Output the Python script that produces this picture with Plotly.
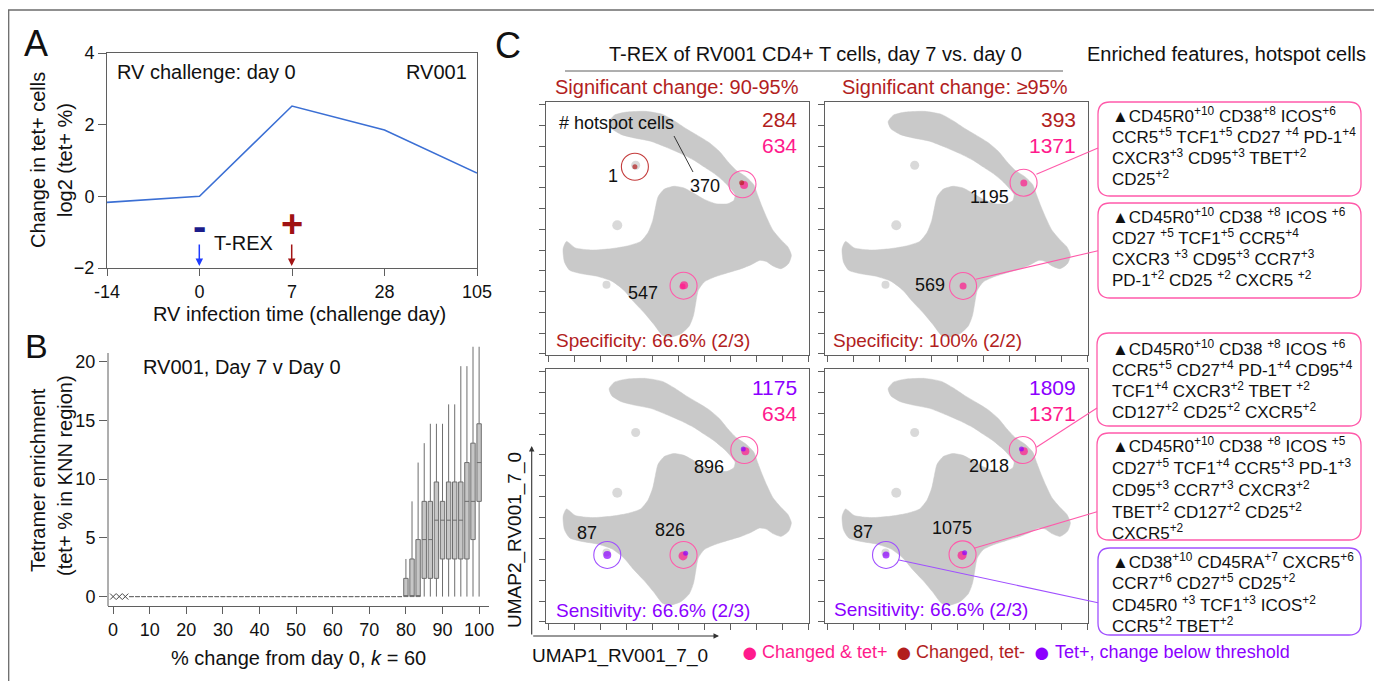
import plotly.graph_objects as go

# The page body has an 8 px margin, so the figure is drawn 8 px in from the window edge.
OX, OY = 8, 8
W, H = 1382 - OX, 681 - OY
FONT = "Liberation Sans, Arial, Helvetica, sans-serif"
INK = "#111111"
AXC = "#5f5f5f"
BLUE = "#3b6fd4"
PINK = "#ff1a8c"
DRED = "#b21e1e"
PURP = "#8b00ff"
GREY = "#c9c9c9"
PINK_LINE = "#ff5aaa"
PURP_LINE = "#a050ff"
DRED_LINE = "#c43c3c"

# ---------------- Panel A data ----------------
a_days = ["-14", "0", "7", "28", "105"]
a_log2 = [-0.17, 0.00, 2.52, 1.85, 0.65]
a_yticks = [-2, 0, 2, 4]

# ---------------- Panel B data ----------------
b_nan_pos = [0, 1.67, 3.33]
b_zero_pos = [5, 6.67, 8.33, 10, 11.67, 13.33, 15, 16.67, 18.33, 20, 21.67, 23.33,
              25, 26.67, 28.33, 30, 31.67, 33.33, 35, 36.67, 38.33, 40, 41.67, 43.33,
              45, 46.67, 48.33, 50, 51.67, 53.33, 55, 56.67, 58.33, 60, 61.67, 63.33,
              65, 66.67, 68.33, 70, 71.67, 73.33, 75, 76.67, 78.33]
b_zero_val = [0.0] * len(b_zero_pos)
b_box_pos = [80, 81.67, 83.33, 85, 86.67, 88.33, 90, 91.67, 93.33, 95, 96.67, 98.33, 100]
b_q1 = [0, 0, 0, 1.55, 1.55, 1.55, 3.2, 3.2, 3.2, 3.2, 3.2, 4.85, 8.1]
b_med = [0, 0, 0, 4.85, 4.85, 6.5, 6.5, 6.5, 6.5, 6.5, 8.1, 8.1, 11.4]
b_q3 = [1.55, 3.2, 4.85, 8.1, 8.1, 9.75, 8.1, 9.75, 9.75, 9.75, 11.4, 13.05, 14.7]
b_hi = [3.2, 8.1, 11.4, 13.05, 14.7, 14.7, 14.7, 16.35, 16.35, 19.6, 19.6, 21.25, 21.25]
b_lo = [0, 0, 0, 0, 0, 0, 0, 0, 0, 0, 0, 0, 0]
b_xticks = [0, 10, 20, 30, 40, 50, 60, 70, 80, 90, 100]
b_yticks = [0, 5, 10, 15, 20]

# ---------------- Panel C data (UMAP space, 0-10 units) ----------------
umap1_outline = [2.40, 2.60, 3.05, 3.80, 4.43, 4.87, 5.32, 5.76, 6.21, 6.59,
                 6.91, 7.23, 7.61, 7.90, 8.05, 8.22, 8.41, 8.63, 8.92, 9.20,
                 9.33, 9.22, 8.94, 8.63, 8.37, 8.12, 7.80, 7.42, 6.91, 6.40,
                 6.02, 5.79, 5.70, 5.61, 5.45, 5.13, 4.75, 4.43, 4.11, 3.73,
                 3.32, 2.96, 2.52, 1.95, 1.37, 0.90, 0.70, 0.65, 0.78, 1.12,
                 1.76, 2.46, 3.09, 3.60, 3.88, 4.06, 4.16, 4.26, 4.49, 4.87,
                 5.25, 5.64, 6.02, 6.46, 6.91, 7.14, 7.19, 7.04, 6.78, 6.40,
                 6.02, 5.64, 5.13, 4.55, 3.98, 3.35, 2.85, 2.50]
umap2_outline = [9.22, 9.48, 9.60, 9.63, 9.51, 9.26, 8.95, 8.68, 8.39, 8.05,
                 7.65, 7.30, 7.04, 6.73, 6.31, 5.85, 5.39, 4.93, 4.57, 4.27,
                 3.94, 3.61, 3.41, 3.52, 3.70, 3.74, 3.57, 3.41, 3.25, 3.08,
                 2.89, 2.56, 2.09, 1.57, 1.15, 0.84, 0.71, 0.78, 1.20, 1.67,
                 2.12, 2.56, 2.91, 3.11, 3.21, 3.35, 3.68, 4.20, 4.49, 4.23,
                 4.15, 4.20, 4.31, 4.49, 4.84, 5.32, 5.81, 6.25, 6.55, 6.67,
                 6.60, 6.38, 6.15, 5.98, 5.98, 6.11, 6.34, 6.55, 6.84, 7.17,
                 7.43, 7.69, 7.96, 8.22, 8.45, 8.58, 8.72, 8.95]
umap1_islands = [3.41, 2.71, 2.30]
umap2_islands = [7.50, 5.13, 2.78]
island_size = [9, 10, 8]

# hotspot cells per panel: x, y, colour, marker size
tl_dots = [(3.38, 7.44, DRED, 5), (7.53, 6.72, PINK, 8), (7.44, 6.81, DRED, 5),
           (5.25, 2.76, PINK, 8), (5.19, 2.71, PINK, 6)]
tr_dots = [(7.56, 6.80, PINK, 7), (5.25, 2.73, PINK, 7)]
bl_dots = [(7.58, 6.76, PINK, 8), (7.50, 6.85, PURP, 5), (5.21, 2.64, PINK, 9),
           (5.31, 2.75, PURP, 5), (2.33, 2.68, PURP, 8)]
br_dots = [(7.56, 6.76, PINK, 8), (7.47, 6.85, PURP, 5), (5.21, 2.66, PINK, 9),
           (5.31, 2.77, PURP, 5), (2.32, 2.68, PURP, 7)]
# hotspot circles: x, y, colour
tl_circ = [(3.38, 7.44, DRED_LINE), (7.47, 6.75, PINK_LINE), (5.23, 2.74, PINK_LINE)]
tr_circ = [(7.55, 6.81, PINK_LINE), (5.25, 2.73, PINK_LINE)]
bl_circ = [(7.54, 6.81, PINK_LINE), (5.23, 2.68, PINK_LINE), (2.33, 2.68, PURP_LINE)]
br_circ = [(7.52, 6.81, PINK_LINE), (5.23, 2.70, PINK_LINE), (2.32, 2.68, PURP_LINE)]
# hotspot cell counts (label, x, y)
tl_counts = [("1", 2.54, 7.09), ("370", 6.04, 6.68), ("547", 3.68, 2.44)]
tr_counts = [("1195", 6.27, 6.25), ("569", 3.98, 2.75)]
bl_counts = [("896", 6.18, 6.13), ("826", 4.72, 3.66), ("87", 1.54, 3.53)]
br_counts = [("2018", 6.23, 6.18), ("1075", 4.83, 3.73), ("87", 1.43, 3.57)]
# totals
panel_totals = [("284", "634", DRED, PINK), ("393", "1371", DRED, PINK),
                ("1175", "634", PURP, PINK), ("1809", "1371", PURP, PINK)]
panel_notes = [("Specificity: 66.6% (2/3)", DRED), ("Specificity: 100% (2/2)", DRED),
               ("Sensitivity: 66.6% (2/3)", PURP), ("Sensitivity: 66.6% (2/3)", PURP)]

feature_boxes = [
    ["▲CD45R0<sup>+10</sup> CD38<sup>+8</sup> ICOS<sup>+6</sup>",
     "CCR5<sup>+5</sup> TCF1<sup>+5</sup> CD27 <sup>+4</sup> PD-1<sup>+4</sup>",
     "CXCR3<sup>+3</sup> CD95<sup>+3</sup> TBET<sup>+2</sup>",
     "CD25<sup>+2</sup>"],
    ["▲CD45R0<sup>+10</sup> CD38 <sup>+8</sup> ICOS <sup>+6</sup>",
     "CD27 <sup>+5</sup> TCF1<sup>+5</sup> CCR5<sup>+4</sup>",
     "CXCR3 <sup>+3</sup> CD95<sup>+3</sup> CCR7<sup>+3</sup>",
     "PD-1<sup>+2</sup> CD25 <sup>+2</sup> CXCR5 <sup>+2</sup>"],
    ["▲CD45R0<sup>+10</sup> CD38 <sup>+8</sup> ICOS <sup>+6</sup>",
     "CCR5<sup>+5</sup> CD27<sup>+4</sup> PD-1<sup>+4</sup> CD95<sup>+4</sup>",
     "TCF1<sup>+4</sup> CXCR3<sup>+2</sup> TBET <sup>+2</sup>",
     "CD127<sup>+2</sup> CD25<sup>+2</sup> CXCR5<sup>+2</sup>"],
    ["▲CD45R0<sup>+10</sup> CD38 <sup>+8</sup> ICOS <sup>+5</sup>",
     "CD27<sup>+5</sup> TCF1<sup>+4</sup> CCR5<sup>+3</sup> PD-1<sup>+3</sup>",
     "CD95<sup>+3</sup> CCR7<sup>+3</sup> CXCR3<sup>+2</sup>",
     "TBET<sup>+2</sup> CD127<sup>+2</sup> CD25<sup>+2</sup>",
     "CXCR5<sup>+2</sup>"],
    ["▲CD38<sup>+10</sup> CD45RA<sup>+7</sup> CXCR5<sup>+6</sup>",
     "CCR7<sup>+6</sup> CD27<sup>+5</sup> CD25<sup>+2</sup>",
     "CD45R0 <sup>+3</sup> TCF1<sup>+3</sup> ICOS<sup>+2</sup>",
     "CCR5<sup>+2</sup> TBET<sup>+2</sup>"],
]

# ---------------- layout helpers (window pixel -> paper) ----------------
def fx(p):
    return (p - OX) / W


def fy(p):
    return 1 - (p - OY) / H


ann = []
shapes = []


def T(x, y, s, size=20, color=INK, xa="center", ya="middle", angle=0):
    ann.append(dict(x=fx(x), y=fy(y), xref="paper", yref="paper", text=s, showarrow=False,
                    font=dict(family=FONT, size=size, color=color), xanchor=xa, yanchor=ya,
                    textangle=angle))


def ARW(hx, hy, tx, ty, color, width=1.5, size=1.0):
    ann.append(dict(x=fx(hx), y=fy(hy), xref="paper", yref="paper", ax=tx - hx, ay=ty - hy,
                    axref="pixel", ayref="pixel", text="", showarrow=True, arrowhead=2,
                    arrowsize=size, arrowwidth=width, arrowcolor=color, standoff=0,
                    startstandoff=0))


def LINE(x0, y0, x1, y1, color, width=1.0):
    shapes.append(dict(type="line", xref="paper", yref="paper", x0=fx(x0), y0=fy(y0),
                       x1=fx(x1), y1=fy(y1), line=dict(color=color, width=width)))


def RBOX(x0, y0, x1, y1, color, r=12):
    def p(x, y):
        return f"{fx(x):.5f},{fy(y):.5f}"
    path = (f"M {p(x0 + r, y0)} L {p(x1 - r, y0)} Q {p(x1, y0)} {p(x1, y0 + r)} "
            f"L {p(x1, y1 - r)} Q {p(x1, y1)} {p(x1 - r, y1)} L {p(x0 + r, y1)} "
            f"Q {p(x0, y1)} {p(x0, y1 - r)} L {p(x0, y0 + r)} Q {p(x0, y0)} {p(x0 + r, y0)} Z")
    shapes.append(dict(type="path", xref="paper", yref="paper", path=path,
                       line=dict(color=color, width=1.3), fillcolor="rgba(0,0,0,0)"))


fig = go.Figure()

# ---------------- Panel A ----------------
fig.add_trace(go.Scatter(x=a_days, y=a_log2, mode="lines", line=dict(color=BLUE, width=1.6),
                         xaxis="x", yaxis="y", showlegend=False, hoverinfo="skip"))

# ---------------- Panel B ----------------
box_style = dict(fillcolor="#c6c6c6", line=dict(color="#6e6e6e", width=1), whiskerwidth=0,
                 boxpoints=False, width=1.2, xaxis="x2", yaxis="y2", showlegend=False,
                 hoverinfo="skip")
fig.add_trace(go.Box(x=b_zero_pos, q1=b_zero_val, median=b_zero_val, q3=b_zero_val,
                     lowerfence=b_zero_val, upperfence=b_zero_val, **box_style))
fig.add_trace(go.Box(x=b_box_pos, q1=b_q1, median=b_med, q3=b_q3,
                     lowerfence=b_lo, upperfence=b_hi, **box_style))
fig.add_trace(go.Scatter(x=b_nan_pos, y=[0] * len(b_nan_pos), mode="markers",
                         marker=dict(symbol="x-thin", size=6, line=dict(width=1, color="#444")),
                         xaxis="x2", yaxis="y2", showlegend=False, hoverinfo="skip"))

# ---------------- Panel C ----------------
panels = [
    ("x3", "y3", tl_dots, tl_circ, tl_counts),
    ("x4", "y4", tr_dots, tr_circ, tr_counts),
    ("x5", "y5", bl_dots, bl_circ, bl_counts),
    ("x6", "y6", br_dots, br_circ, br_counts),
]
for xa, ya, dots, circ, counts in panels:
    fig.add_trace(go.Scatter(x=umap1_outline + umap1_outline[:1], y=umap2_outline + umap2_outline[:1],
                             mode="lines", fill="toself", fillcolor=GREY,
                             line=dict(color=GREY, width=0.5, shape="spline", smoothing=0.6),
                             xaxis=xa, yaxis=ya, showlegend=False, hoverinfo="skip"))
    fig.add_trace(go.Scatter(x=umap1_islands, y=umap2_islands, mode="markers",
                             marker=dict(color=GREY, size=island_size, line=dict(width=0)),
                             xaxis=xa, yaxis=ya, showlegend=False, hoverinfo="skip"))
    fig.add_trace(go.Scatter(x=[d[0] for d in dots], y=[d[1] for d in dots], mode="markers",
                             marker=dict(color=[d[2] for d in dots], size=[d[3] for d in dots],
                                         line=dict(width=0)),
                             xaxis=xa, yaxis=ya, showlegend=False, hoverinfo="skip"))
    fig.add_trace(go.Scatter(x=[c[0] for c in circ], y=[c[1] for c in circ], mode="markers",
                             marker=dict(symbol="circle-open", size=27, color=[c[2] for c in circ],
                                         line=dict(width=1.1, color=[c[2] for c in circ])),
                             xaxis=xa, yaxis=ya, showlegend=False, hoverinfo="skip"))
    for s, x, y in counts:
        ann.append(dict(xref=xa, yref=ya, x=x, y=y, text=s, showarrow=False,
                        font=dict(family=FONT, size=18, color=INK),
                        xanchor="center", yanchor="middle"))

# ---------------- axes ----------------
def umap_axes(xd, yd, n):
    xa = dict(domain=[fx(xd[0]), fx(xd[1])], anchor=f"y{n}", range=[0, 10], showgrid=False,
              zeroline=False, showline=True, mirror=True, linecolor=AXC, linewidth=1,
              ticks="outside", ticklen=6, tickcolor=AXC, tickmode="linear", tick0=0.08,
              dtick=0.99, showticklabels=False, fixedrange=True, automargin=False)
    ya = dict(domain=[fy(yd[1]), fy(yd[0])], anchor=f"x{n}", range=[0, 10], showgrid=False,
              zeroline=False, showline=True, mirror=True, linecolor=AXC, linewidth=1,
              ticks="outside", ticklen=6, tickcolor=AXC, tickmode="linear", tick0=0.04,
              dtick=0.822, showticklabels=False, fixedrange=True, automargin=False)
    return xa, ya


tickf = dict(family=FONT, size=18, color=INK)
layout = dict(
    width=W, height=H, autosize=False, margin=dict(l=0, r=0, t=0, b=0, pad=0),
    paper_bgcolor="white", plot_bgcolor="white", showlegend=False,
    xaxis=dict(domain=[fx(107), fx(477)], anchor="y", type="category", range=[0, 4],
               showgrid=False, zeroline=False, showline=True, mirror=True, linecolor=AXC,
               ticks="outside", ticklen=7, tickcolor=AXC, tickfont=tickf, automargin=False),
    yaxis=dict(domain=[fy(268), fy(53)], anchor="x", range=[-2, 4], tickvals=a_yticks,
               showgrid=False, zeroline=False, showline=True, mirror=True, linecolor=AXC,
               ticks="outside", ticklen=8, tickcolor=AXC, tickfont=tickf, automargin=False),
    xaxis2=dict(domain=[fx(108), fx(489)], anchor="y2", range=[-1.4, 102.7], tickvals=b_xticks,
                showgrid=False, zeroline=False, showline=True, linecolor=AXC,
                ticks="outside", ticklen=7, tickcolor=AXC, tickfont=tickf, automargin=False),
    yaxis2=dict(domain=[fy(606), fy(345)], anchor="x2", range=[-0.8, 21.4], tickvals=b_yticks,
                showgrid=False, zeroline=False, showline=False,
                ticks="outside", ticklen=8, tickcolor=AXC, tickfont=tickf, automargin=False),
)
for i, (xd, yd) in enumerate([((546, 809), (102, 355)), ((825, 1088), (102, 355)),
                              ((546, 809), (369, 623)), ((825, 1088), (369, 623))]):
    n = i + 3
    xa, ya = umap_axes(xd, yd, n)
    layout[f"xaxis{n}"] = xa
    layout[f"yaxis{n}"] = ya

# ---------------- frame and panel letters ----------------
LINE(8.7, 10, 8.7, 681, "#6b6b6b", 1.3)
LINE(8, 10, 1382, 10, "#6b6b6b", 1.3)
T(36, 43, "A", size=36)
T(36, 346, "B", size=34)
T(508, 45, "C", size=36)

# ---------------- Panel A texts ----------------
T(115, 72, "RV challenge: day 0", size=20, xa="left")
T(469, 72, "RV001", size=20, xa="right")
T(38, 160, "Change in tet+ cells", size=20, angle=-90)
T(65, 160, "log2 (tet+ %)", size=20, angle=-90)
T(299, 314, "RV infection time (challenge day)", size=20)
T(199.3, 226, "<b>-</b>", size=40, color="#1c1c8a")
T(291.7, 224, "<b>+</b>", size=38, color="#a01212")
T(243, 243, "T-REX", size=20)
ARW(199.3, 266, 199.3, 243, "#1f3cff", width=1.5, size=1.0)
ARW(291.7, 266, 291.7, 243, "#a31515", width=1.5, size=1.0)

# ---------------- Panel B texts ----------------
shapes.append(dict(type="line", xref="paper", yref="paper", x0=fx(108), x1=fx(108),
                   y0=fy(606), y1=fy(353), line=dict(color=AXC, width=1)))
T(141, 367, "RV001, Day 7 v Day 0", size=20, xa="left")
T(38, 480, "Tetramer enrichment", size=20, angle=-90)
T(65, 476, "(tet+ % in KNN region)", size=20, angle=-90)
T(298, 658, "% change from day 0, <i>k</i> = 60", size=20)

# ---------------- Panel C texts ----------------
T(815, 54, "T-REX of RV001 CD4+ T cells, day 7 vs. day 0", size=20)
LINE(565, 71, 1063, 71, AXC, 1)
T(1368, 54, "Enriched features, hotspot cells", size=20, xa="right")
T(677, 87, "Significant change: 90-95%", size=20, color=DRED)
T(955, 87, "Significant change: ≥95%", size=20, color=DRED)

rights = [799, 1078, 799, 1078]
tops = [120, 120, 387, 387]
lefts = [554, 831, 554, 832]
bottoms = [340, 340, 610, 609]
for k in range(4):
    a, b, ca, cb = panel_totals[k]
    T(rights[k], tops[k], a, size=21, color=ca, xa="right")
    T(rights[k], tops[k] + 26, b, size=21, color=cb, xa="right")
    note, nc = panel_notes[k]
    T(lefts[k], bottoms[k], note, size=19, color=nc, xa="left")

T(557, 123, "# hotspot cells", size=18, xa="left")
LINE(674, 136, 693, 172, "#222", 0.9)

# UMAP axis arrows and titles
ARW(531.7, 446, 531.7, 636, "#333", width=1.1, size=1.0)
ARW(719, 636, 531.7, 636, "#333", width=1.1, size=1.0)
T(515, 540, "UMAP2_RV001_7_0", size=19, angle=-90)
T(620, 656, "UMAP1_RV001_7_0", size=19)

# legend
T(750, 652, "●", size=29, color=PINK)
T(760, 652, "Changed & tet+", size=18, color=PINK, xa="left")
T(903.6, 652, "●", size=29, color=DRED)
T(914, 652, "Changed, tet-", size=18, color=DRED, xa="left")
T(1041.8, 652, "●", size=29, color=PURP)
T(1052.5, 652, "Tet+, change below threshold", size=18, color=PURP, xa="left")

# ---------------- feature boxes ----------------
box_geom = [(1098, 102, 1361, 196), (1098, 203, 1361, 298), (1097, 333, 1361, 426),
            (1097, 433, 1361, 540), (1098, 548, 1361, 635)]
line_y = [[115, 136, 157, 178], [216, 237, 258, 279], [348, 369, 390, 411],
          [445, 467, 489, 511, 532], [561, 582, 604, 625]]
box_col = ["#ff5aaa", "#ff5aaa", "#ff5aaa", "#ff5aaa", PURP_LINE]
for k, (x0, y0, x1, y1) in enumerate(box_geom):
    RBOX(x0, y0, x1, y1, box_col[k])
    for s, yy in zip(feature_boxes[k], line_y[k]):
        T(1110, yy, s, size=17, xa="left")

# connector lines
LINE(1036.4, 174.3, 1098, 148, "#ff5aaa", 1.1)
LINE(975.7, 279.3, 1098, 250.7, "#ff5aaa", 1.1)
LINE(1036.4, 447.3, 1097, 408, "#ff5aaa", 1.1)
LINE(974, 548.3, 1097, 511.7, "#ff5aaa", 1.1)
LINE(899, 560, 1098, 602.7, PURP_LINE, 1.1)

layout["annotations"] = ann
layout["shapes"] = shapes
fig.update_layout(**layout)
fig.write_html("out.html")
